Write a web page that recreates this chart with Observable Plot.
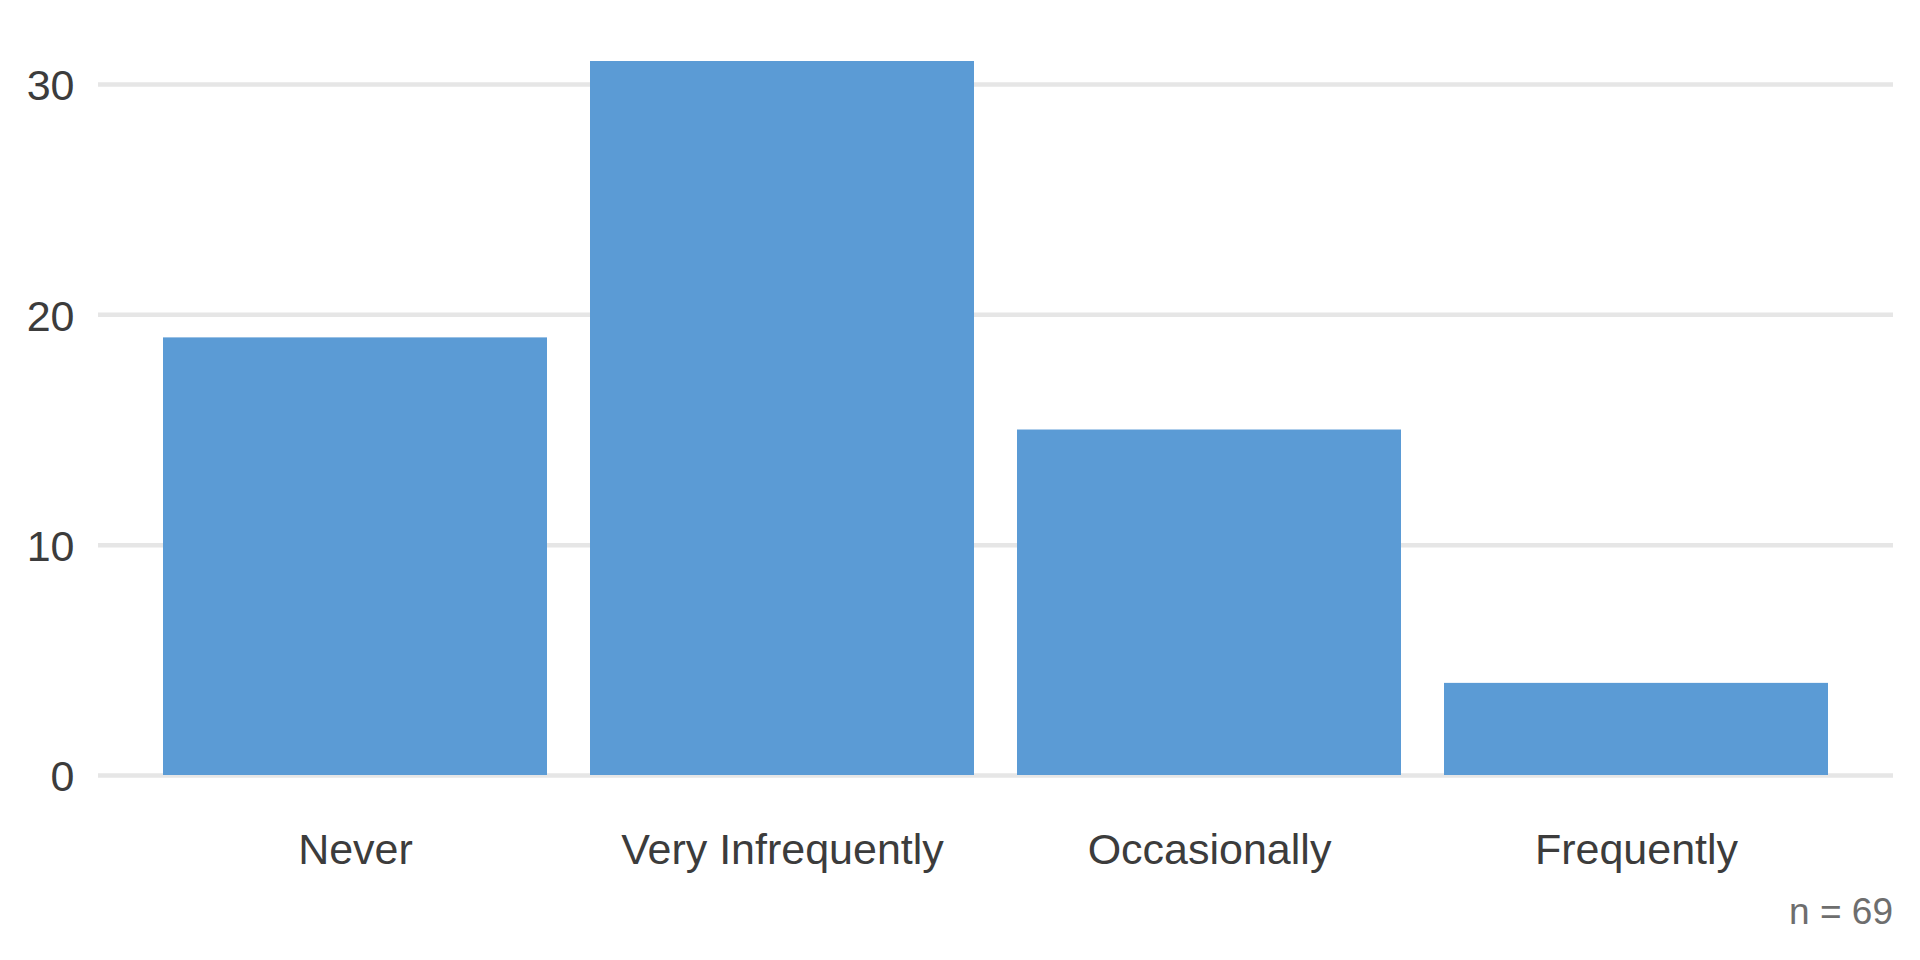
<!DOCTYPE html>
<html>
<head>
<meta charset="utf-8">
<script src="https://cdn.jsdelivr.net/npm/d3@7"></script>
<script src="https://cdn.jsdelivr.net/npm/@observablehq/plot@0.6"></script>
<style>
  html, body { margin: 0; padding: 0; background: #fff; }
  #caption { width: 1920px; box-sizing: border-box; padding-right: 27px; text-align: right;
    font-family: "Liberation Sans", Arial, sans-serif; font-size: 37px; line-height: 44px; color: #6e6e6e; }
</style>
</head>
<body>
<div id="chart"></div>
<div id="caption"></div>
<script>
const categories = ["Never", "Very Infrequently", "Occasionally", "Frequently"];
const counts = [19, 31, 15, 4];
const yTicks = [0, 10, 20, 30];
const captionText = "n = 69";

const data = categories.map((c, i) => ({category: c, count: counts[i]}));

const chart = Plot.plot({
  width: 1920,
  height: 890,
  marginLeft: 98,
  marginRight: 27,
  marginTop: 61,
  marginBottom: 115,
  style: {fontFamily: "'Liberation Sans', Arial, sans-serif", fontSize: "43px", color: "#3c3c3c", background: "#fff"},
  x: {domain: categories, paddingInner: 0.1, paddingOuter: 0.15, label: null},
  y: {domain: [0, 31], label: null},
  marks: [
    Plot.gridY(yTicks, {stroke: "#e6e6e6", strokeOpacity: 1, strokeWidth: 4.5}),
    Plot.barY(data, {x: "category", y: "count", fill: "#5b9bd5"}),
    Plot.axisX({tickSize: 0, tickPadding: 58, fill: "#3c3c3c", fontSize: 43}),
    Plot.axisY({ticks: yTicks, tickSize: 0, tickPadding: 24, dy: 2, fill: "#3c3c3c", fontSize: 43})
  ]
});
document.getElementById("chart").appendChild(chart);
document.getElementById("caption").textContent = captionText;
</script>
</body>
</html>
